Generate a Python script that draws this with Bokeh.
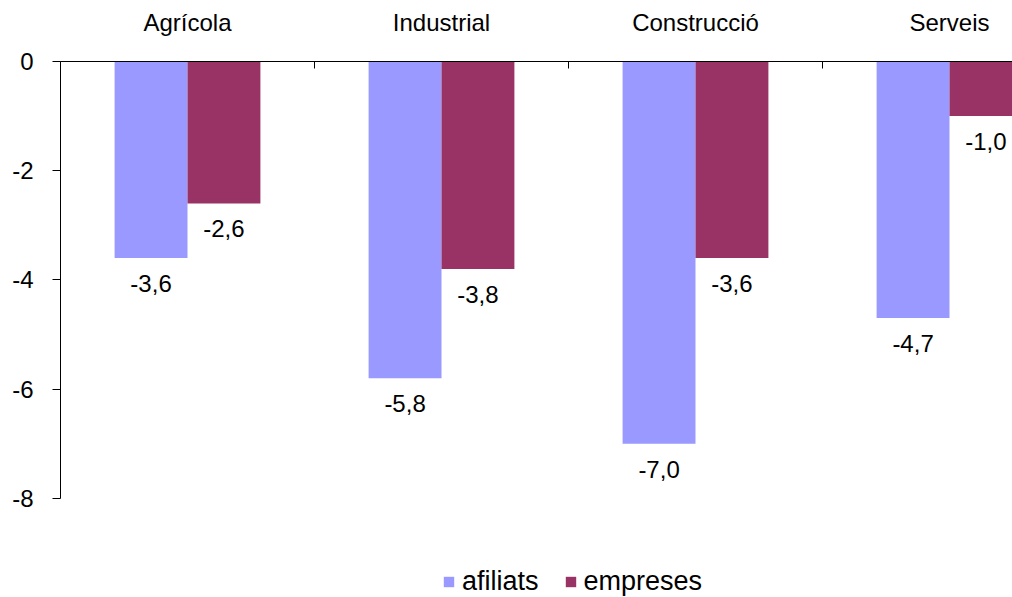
from bokeh.plotting import figure
from bokeh.models import (ColumnDataSource, LinearAxis, FixedTicker, Range1d,
                          Legend, LegendItem)
from bokeh.core.properties import value
from bokeh.embed import file_html
from bokeh.resources import INLINE

categories = ["Agrícola", "Industrial", "Construcció", "Serveis"]
afiliats = [-3.6, -5.8, -7.0, -4.7]
empreses = [-2.6, -3.8, -3.6, -1.0]
y_ticks = [0, -2, -4, -6, -8]
series_names = ["afiliats", "empreses"]
colors = ["#9999FF", "#993366"]

FONT = "Liberation Sans"
bar_w = 0.287

idx = list(range(len(categories)))
centers = [i + 0.5 for i in idx]

def fmt(v):
    return ("%.1f" % v).replace(".", ",")

src_a = ColumnDataSource(dict(x=[c - bar_w / 2 for c in centers], v=afiliats,
                              lab=[fmt(v) for v in afiliats]))
src_e = ColumnDataSource(dict(x=[c + bar_w / 2 for c in centers], v=empreses,
                              lab=[fmt(v) for v in empreses]))

p = figure(width=1012, height=597, output_backend="svg", toolbar_location=None,
           x_range=Range1d(0, 3.748), y_range=Range1d(-9.817, 0),
           x_axis_location=None, y_axis_location=None,
           min_border_left=60, min_border_top=61, min_border_right=0,
           min_border_bottom=0)
p.outline_line_color = None
p.xgrid.visible = False
p.ygrid.visible = False
p.background_fill_color = "white"
p.border_fill_color = "white"

r1 = p.vbar(x="x", top=0, bottom="v", width=bar_w, source=src_a,
            fill_color=colors[0], line_color=None)
r2 = p.vbar(x="x", top=0, bottom="v", width=bar_w, source=src_e,
            fill_color=colors[1], line_color=None)

for s in (src_a, src_e):
    p.text(x="x", y="v", text="lab", source=s, text_align="center",
           text_baseline="top", y_offset=17, text_font=value(FONT),
           text_font_size="24px", text_color="black")

# y axis (line limited to 0..-8)
yax = LinearAxis(ticker=FixedTicker(ticks=y_ticks, minor_ticks=[]),
                 bounds=(-8, 0))
yax.major_label_overrides = {t: str(t) for t in y_ticks}
yax.major_tick_out = 8
yax.major_tick_in = 0
yax.minor_tick_out = 0
yax.minor_tick_in = 0
yax.major_label_standoff = 19
yax.major_label_text_font = FONT
yax.major_label_text_font_size = "24px"
yax.major_label_text_color = "black"
yax.axis_line_color = "black"
yax.major_tick_line_color = "black"
p.add_layout(yax, "left")

# top category axis
xax = LinearAxis(ticker=FixedTicker(ticks=centers, minor_ticks=[0, 1, 2, 3, 4]))
xax.major_label_overrides = {c: n for c, n in zip(centers, categories)}
xax.major_tick_in = 0
xax.major_tick_out = 0
xax.minor_tick_in = 7
xax.minor_tick_out = 0
xax.minor_tick_line_color = "black"
xax.major_label_standoff = 26
xax.major_label_text_font = FONT
xax.major_label_text_font_size = "24px"
xax.major_label_text_color = "black"
xax.axis_line_color = "black"
p.add_layout(xax, "above")

legend = Legend(items=[LegendItem(label=series_names[0], renderers=[r1]),
                       LegendItem(label=series_names[1], renderers=[r2])],
                orientation="horizontal", location=(382, 0))
legend.border_line_color = None
legend.background_fill_alpha = 0
legend.padding = 0
legend.margin = 0
legend.spacing = 25
legend.glyph_width = 13
legend.glyph_height = 13
legend.label_standoff = 7
legend.label_text_font = FONT
legend.label_text_font_size = "27px"
legend.label_text_color = "black"
p.add_layout(legend, "center")

open("out.html", "w").write(file_html(p, INLINE))
